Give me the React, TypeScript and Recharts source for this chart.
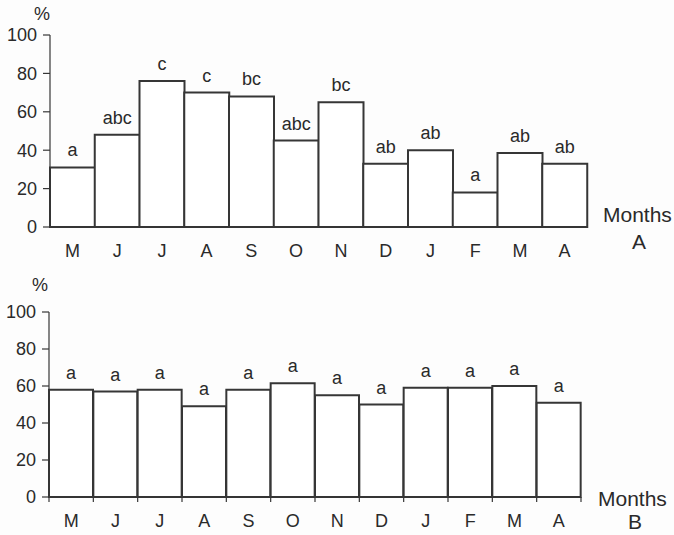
import React from "react";
import { BarChart, Bar, XAxis, YAxis, LabelList } from "recharts";

const months = ["M", "J", "J", "A", "S", "O", "N", "D", "J", "F", "M", "A"];
const valuesA = [31, 48, 76, 70, 68, 45, 65, 33, 40, 18, 38.5, 33];
const lettersA = ["a", "abc", "c", "c", "bc", "abc", "bc", "ab", "ab", "a", "ab", "ab"];
const valuesB = [58, 57, 58, 49, 58, 61.5, 55, 50, 59, 59, 60, 51];
const lettersB = ["a", "a", "a", "a", "a", "a", "a", "a", "a", "a", "a", "a"];
const yTicks = [0, 20, 40, 60, 80, 100];

const FONT = "Arial, 'Liberation Sans', Helvetica, sans-serif";
const INK = "#2a2a2a";
const LINE = "#363636";
const W = 674;

const dataA = months.map((m, i) => ({ key: i, month: m, value: valuesA[i], sig: lettersA[i] }));
const dataB = months.map((m, i) => ({ key: i, month: m, value: valuesB[i], sig: lettersB[i] }));

function makeTick(bandWidth: number, withMarks: boolean, last: number) {
  return (props: any) => {
    const { x, y, payload, index } = props;
    return (
      <g>
        {withMarks && (
          <line x1={x - bandWidth / 2} x2={x - bandWidth / 2} y1={y} y2={y + 5} stroke={LINE} strokeWidth={1.2} />
        )}
        {withMarks && index === last && (
          <line x1={x + bandWidth / 2} x2={x + bandWidth / 2} y1={y} y2={y + 5} stroke={LINE} strokeWidth={1.2} />
        )}
        <text x={x} y={y + 24} textAnchor="middle" dominantBaseline="central" fill={INK} fontSize={18} fontFamily={FONT}>
          {months[payload.index ?? index] ?? payload.value}
        </text>
      </g>
    );
  };
}

interface PanelProps {
  data: Array<{ key: number; month: string; value: number; sig: string }>;
  height: number;
  top: number;
  yWidth: number;
  right: number;
  bottom: number;
  marks: boolean;
}

function Panel({ data, height, top, yWidth, right, bottom, marks }: PanelProps) {
  const band = (W - yWidth - right) / data.length;
  return (
    <BarChart
      width={W}
      height={height}
      data={data}
      margin={{ top, right, left: 0, bottom }}
      barCategoryGap={0}
      style={{ fontFamily: FONT }}
    >
      <XAxis
        dataKey="key"
        type="category"
        axisLine={{ stroke: LINE, strokeWidth: 1.5 }}
        tickLine={false}
        tickSize={0}
        tickMargin={0}
        height={30}
        interval={0}
        tick={makeTick(band, marks, data.length - 1)}
      />
      <YAxis
        domain={[0, 100]}
        ticks={yTicks}
        width={yWidth}
        axisLine={{ stroke: LINE, strokeWidth: 1.2 }}
        tickLine={{ stroke: LINE, strokeWidth: 1.2 }}
        tickSize={7}
        tickMargin={6}
        tick={{ fill: INK, fontSize: 18, fontFamily: FONT }}
      />
      <Bar dataKey="value" fill="#ffffff" stroke={LINE} strokeWidth={2} isAnimationActive={false}>
        <LabelList dataKey="sig" position="top" offset={11} fill={INK} fontSize={18} fontFamily={FONT} />
      </Bar>
    </BarChart>
  );
}

const textStyle: React.CSSProperties = {
  position: "absolute",
  fontFamily: FONT,
  color: INK,
  lineHeight: 1,
  whiteSpace: "nowrap",
};

export default function App() {
  return (
    <div style={{ position: "absolute", left: 0, top: 0, width: W, height: 535, background: "#fdfdfd", overflow: "hidden" }}>
      <div style={{ position: "absolute", left: 0, top: 0 }}>
        <Panel data={dataA} height={270} top={35} yWidth={50} right={87} bottom={13} marks={false} />
      </div>
      <div style={{ position: "absolute", left: 0, top: 270 }}>
        <Panel data={dataB} height={265} top={42} yWidth={49} right={93} bottom={8} marks={true} />
      </div>
      <div style={{ ...textStyle, left: 34, top: 5, fontSize: 18 }}>%</div>
      <div style={{ ...textStyle, left: 32, top: 276, fontSize: 18 }}>%</div>
      <div style={{ ...textStyle, left: 603, top: 204, fontSize: 21 }}>Months</div>
      <div style={{ ...textStyle, left: 632, top: 231, fontSize: 21 }}>A</div>
      <div style={{ ...textStyle, left: 598, top: 488, fontSize: 21 }}>Months</div>
      <div style={{ ...textStyle, left: 628, top: 511, fontSize: 21 }}>B</div>
    </div>
  );
}
